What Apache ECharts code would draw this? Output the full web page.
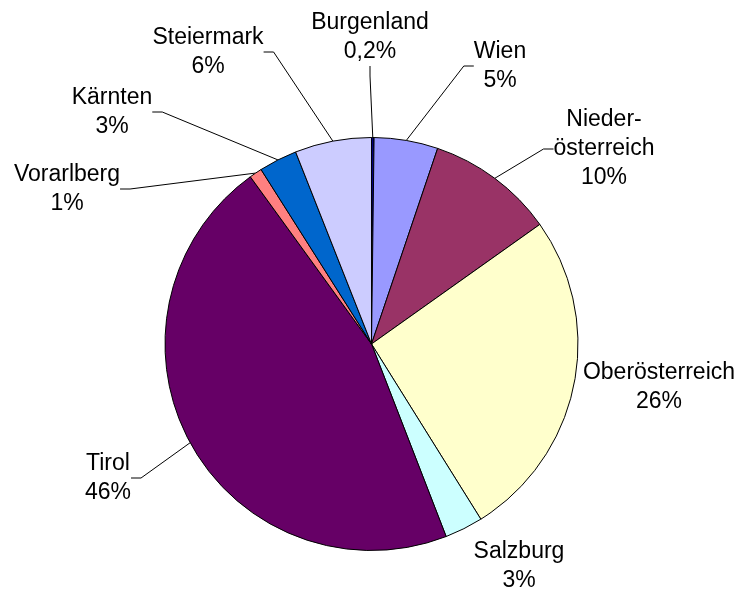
<!DOCTYPE html>
<html>
<head>
<meta charset="utf-8">
<script src="https://cdn.jsdelivr.net/npm/echarts@6/dist/echarts.min.js"></script>
<style>
  html, body { margin: 0; padding: 0; background: #fff; }
  #main { width: 741px; height: 590px; }
</style>
</head>
<body>
<div id="main"></div>
<script>
// Anteile nach Bundesland (im Uhrzeigersinn ab 12 Uhr)
const regions = ['Burgenland', 'Wien', 'Nieder-\nösterreich', 'Oberösterreich', 'Salzburg', 'Tirol', 'Vorarlberg', 'Kärnten', 'Steiermark'];
const shares = [0.2, 5, 10, 26, 3, 46, 1, 3, 6];
const shareLabels = ['0,2%', '5%', '10%', '26%', '3%', '46%', '1%', '3%', '6%'];
const colors = ['#000080', '#9999FF', '#993366', '#FFFFCC', '#CCFFFF', '#660066', '#FF8080', '#0066CC', '#CCCCFF'];
// Beschriftungsmitte je Segment
const labelPos = [[370, 37], [500, 66], [604, 149], [659, 387], [519, 566], [108, 478], [67, 189], [112, 112], [208, 52]];
const noLine = ['Oberösterreich', 'Salzburg'];

let myChart = echarts.init(document.getElementById('main'));
let option = {
    backgroundColor: '#fff',
    animation: false,
    series: [
        {
            type: 'pie',
            center: [371.5, 344],
            radius: 206.5,
            startAngle: 90,
            clockwise: true,
            avoidLabelOverlap: false,
            emphasis: { disabled: true },
            itemStyle: {
                borderColor: '#000',
                borderWidth: 1
            },
            label: {
                show: true,
                position: 'outside',
                color: '#000',
                fontFamily: 'Liberation Sans, Arial, sans-serif',
                fontSize: 23,
                lineHeight: 29,
                align: 'center',
                formatter: p => regions[p.dataIndex] + '\n' + shareLabels[p.dataIndex]
            },
            labelLine: {
                show: true,
                length: 10,
                length2: 10,
                lineStyle: { color: '#000', width: 1 }
            },
            labelLayout: function(params) {
                let pos = labelPos[params.dataIndex];
                return {
                    x: pos[0],
                    y: pos[1],
                    align: 'center',
                    verticalAlign: 'middle'
                };
            },
            data: shares.map((v, i) => ({
                name: regions[i],
                value: v,
                itemStyle: { color: colors[i] },
                labelLine: { show: noLine.indexOf(regions[i]) < 0 }
            }))
        }
    ]
};
myChart.setOption(option);
</script>
</body>
</html>
